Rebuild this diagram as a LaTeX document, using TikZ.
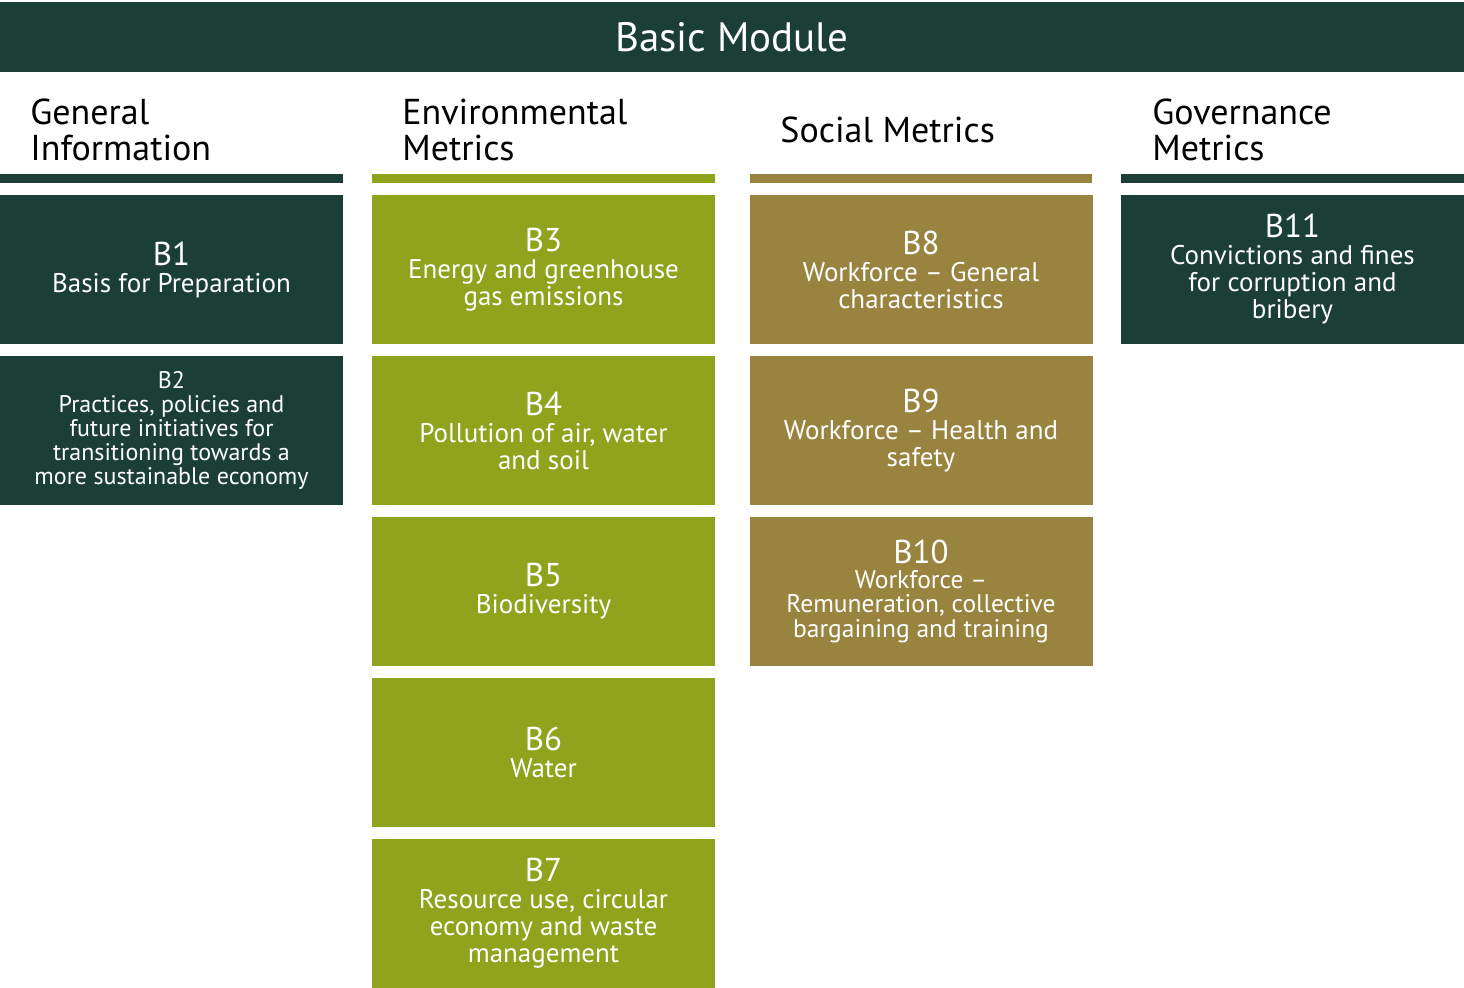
\documentclass[tikz,border=0pt]{standalone}
\usepackage{fontspec}
\setmainfont{PT Sans}
\usetikzlibrary{positioning}
\definecolor{esgdark}{HTML}{1B3F37}
\definecolor{esgolive}{HTML}{8FA31C}
\definecolor{esggold}{HTML}{99843F}
\newcommand{\bnum}[1]{{\fontsize{16.5}{18}\selectfont #1}}
\tikzset{
  card/.style={fill=#1,text=white,inner sep=0pt,minimum width=171.5pt,minimum height=74.5pt,align=center,font=\fontsize{13.5}{13.5}\selectfont},
  smallcard/.style={card=#1,font=\fontsize{12}{12}\selectfont},
  colhead/.style={anchor=west,inner sep=0pt,align=left,font=\fontsize{18}{18}\selectfont}
}
\begin{document}
\begin{tikzpicture}[x=0.5pt,y=-0.5pt]
\useasboundingbox(0,0)rectangle(1464,988);
\fill[esgdark](0,2)rectangle(1464,72);
\node[text=white,font=\fontsize{20.5}{22}\selectfont](title)at(732,37){Basic Module};
\node[colhead](hgen)at(30,130){General\\Information};\node[colhead](henv)at(402,130){Environmental\\Metrics};
\node[colhead](hsoc)at(780,130){Social Metrics};\node[colhead](hgov)at(1152,130){Governance\\Metrics};
\fill[esgdark](0,174)rectangle(343,183);\fill[esgolive](372,174)rectangle(715,183);\fill[esggold](750,174)rectangle(1092,183);\fill[esgdark](1121,174)rectangle(1464,183);
\node[card=esgdark](b1)at(171.5,269.5){\bnum{B1}\\Basis for Preparation};
\node[smallcard=esgdark](b2)at(171.5,430.5){B2\\Practices, policies and\\future initiatives for\\transitioning towards a\\more sustainable economy};
\node[card=esgolive](b3)at(543.5,269.5){\bnum{B3}\\Energy and greenhouse\\gas emissions};
\node[card=esgolive](b4)at(543.5,430.5){\bnum{B4}\\Pollution of air, water\\and soil};
\node[card=esgolive](b5)at(543.5,591.5){\bnum{B5}\\Biodiversity};
\node[card=esgolive](b6)at(543.5,752.5){\bnum{B6}\\Water};
\node[card=esgolive](b7)at(543.5,913.5){\bnum{B7}\\Resource use, circular\\economy and waste\\management};
\node[card=esggold](b8)at(921,269.5){\bnum{B8}\\Workforce -- General\\characteristics};
\node[card=esggold](b9)at(921,430.5){\bnum{B9}\\Workforce -- Health and\\safety};
\node[card=esggold,font=\fontsize{12.75}{12.25}\selectfont](b10)at(921,591.5){\bnum{B10}\\Workforce --\\Remuneration, collective\\bargaining and training};
\node[card=esgdark](b11)at(1292.5,269.5){\bnum{B11}\\Convictions and fines\\for corruption and\\bribery};
\end{tikzpicture}
\end{document}
